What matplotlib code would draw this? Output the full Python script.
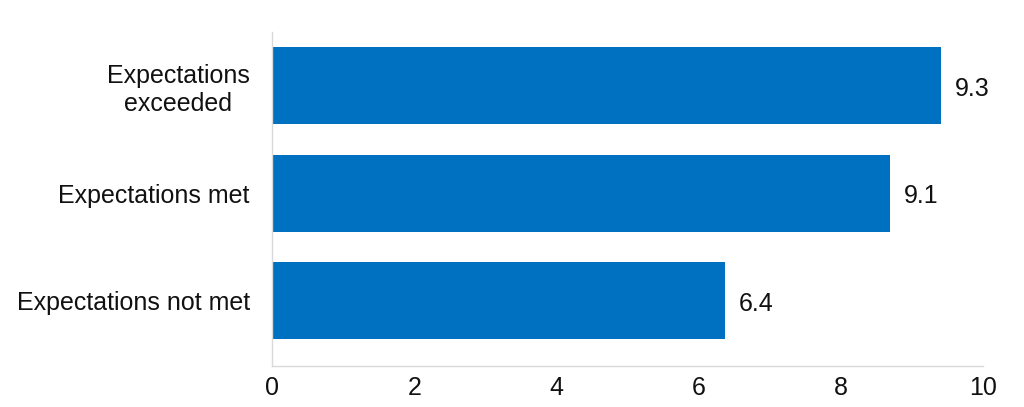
import matplotlib
matplotlib.use("Agg")
import matplotlib.pyplot as plt
import numpy as np

plt.rcParams['font.family'] = ['Liberation Sans', 'DejaVu Sans']

categories = ["Expectations\nexceeded", "Expectations met", "Expectations not met"]
bar_lengths = [9.41, 8.69, 6.37]
value_labels = ["9.3", "9.1", "6.4"]
xticks = [0, 2, 4, 6, 8, 10]

fig = plt.figure(figsize=(10.24, 4.07), dpi=100)
ax = fig.add_axes([0.2656, 0.1007, 0.6944, 0.8203])

y = np.arange(len(categories))
bars = ax.barh(y, bar_lengths, height=0.72, color="#0070C0")

for b, lab in zip(bars, value_labels):
    ax.text(b.get_width() + 0.2, b.get_y() + b.get_height() / 2 + 0.03, lab,
            va="center", ha="left", fontsize=18, color="#111111")

ax.set_yticks(y)
ax.set_yticklabels(categories, fontsize=18, color="#111111", multialignment="center")
ax.set_xticks(xticks)
ax.set_xticklabels([str(t) for t in xticks], fontsize=18, color="#111111")
ax.set_xlim(0, 10)
ax.set_ylim(2.61, -0.5)

ax.tick_params(axis="both", length=0)
ax.tick_params(axis="x", pad=7)
ax.tick_params(axis="y", pad=16)
for s in ["top", "right"]:
    ax.spines[s].set_visible(False)
for s in ["left", "bottom"]:
    ax.spines[s].set_color("#d9d9d9")
    ax.spines[s].set_linewidth(1)

fig.savefig("out.png", dpi=100)
